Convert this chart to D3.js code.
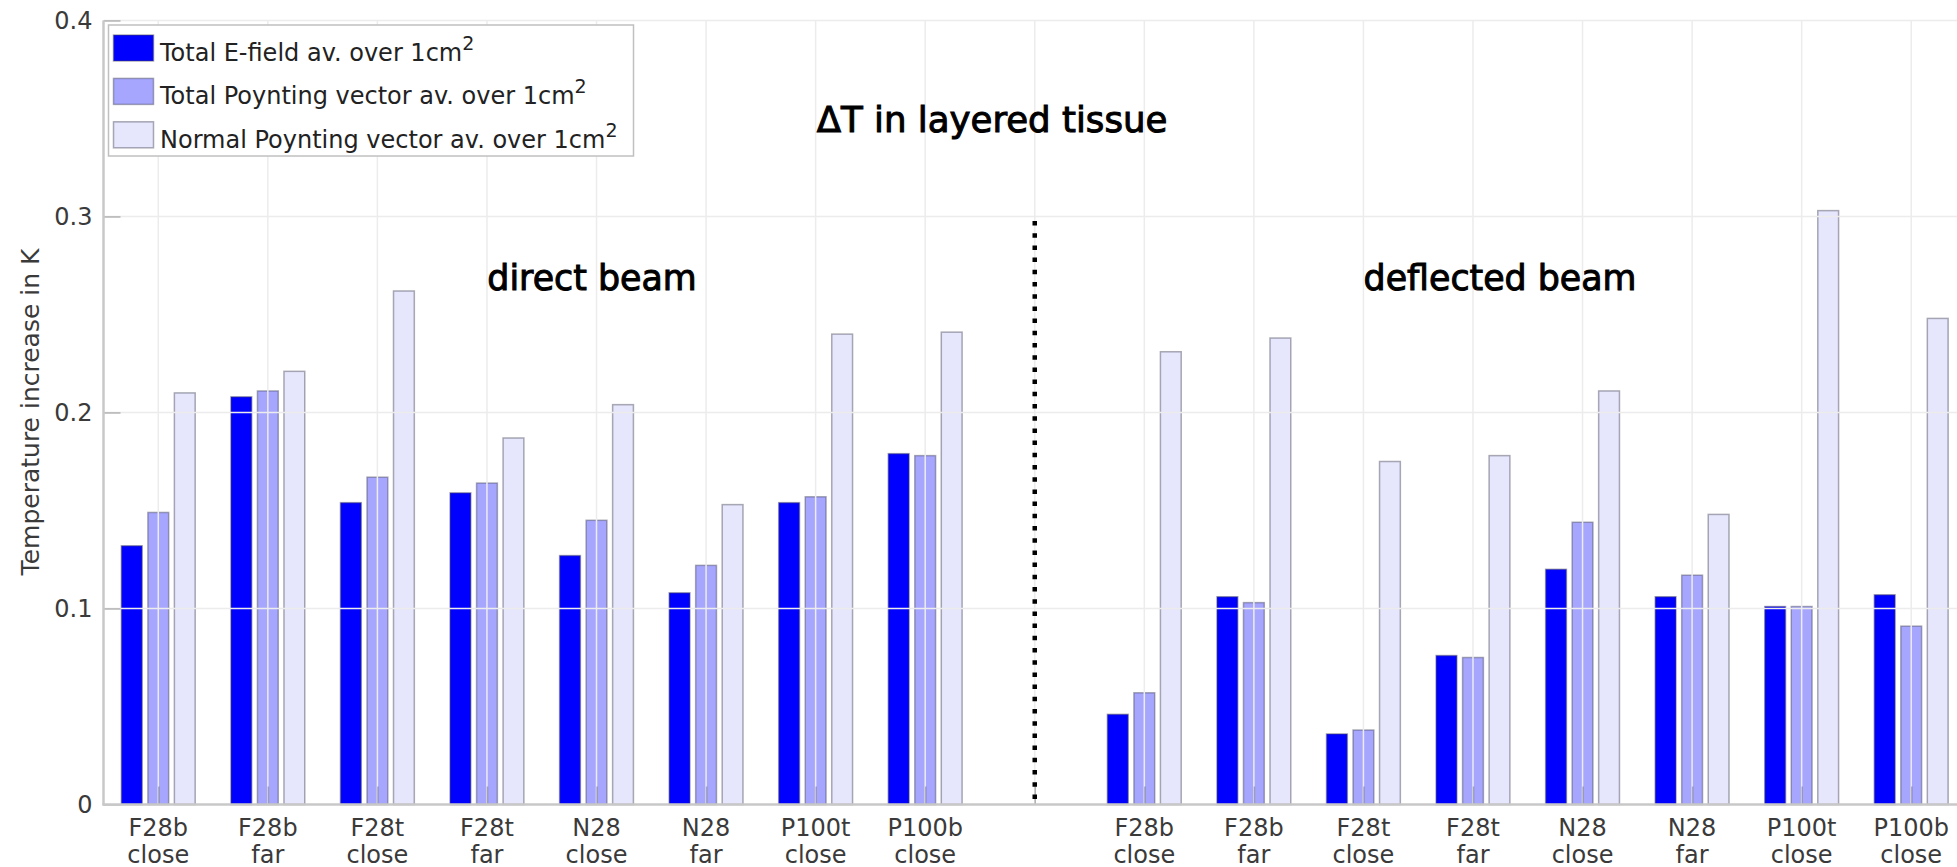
<!DOCTYPE html>
<html>
<head>
<meta charset="utf-8">
<script src="https://cdn.jsdelivr.net/npm/d3@7"></script>
<style>
  body { margin: 0; background: #fff; }
  text { font-family: "DejaVu Sans", sans-serif; }
</style>
</head>
<body>
<script>
// categories (same for both beam setups)
var labelsTop = ["F28b", "F28b", "F28t", "F28t", "N28", "N28", "P100t", "P100b"];
var labelsBottom = ["close", "far", "close", "far", "close", "far", "close", "close"];

// direct beam
var directE      = [0.132, 0.208, 0.154, 0.159, 0.127, 0.108, 0.154, 0.179];
var directTotalS = [0.149, 0.211, 0.167, 0.164, 0.145, 0.122, 0.157, 0.178];
var directNormS  = [0.210, 0.221, 0.262, 0.187, 0.204, 0.153, 0.240, 0.241];

// deflected beam
var deflE      = [0.046, 0.106, 0.036, 0.076, 0.120, 0.106, 0.101, 0.107];
var deflTotalS = [0.057, 0.103, 0.038, 0.075, 0.144, 0.117, 0.101, 0.091];
var deflNormS  = [0.231, 0.238, 0.175, 0.178, 0.211, 0.148, 0.303, 0.248];

var seriesNames = ["Total E-field av. over 1cm", "Total Poynting vector av. over 1cm", "Normal Poynting vector av. over 1cm"];
var seriesColors = ["#0000ff", "#a6a6ff", "#e6e6fc"];
var yTicks = [0, 0.1, 0.2, 0.3, 0.4];

var W = 1957, H = 867;
var svg = d3.select("body").append("svg")
    .attr("width", W)
    .attr("height", H);

var x = d3.scaleLinear().domain([0.5, 17.5]).range([103.5, 1966]);
var y = d3.scaleLinear().domain([0, 0.4]).range([804.5, 20.5]);

// build rows: slot 1..8 direct, 10..17 deflected
var rows = [];
labelsTop.forEach(function(l, i) {
    rows.push({slot: i + 1, top: l, bottom: labelsBottom[i], v: [directE[i], directTotalS[i], directNormS[i]]});
});
labelsTop.forEach(function(l, i) {
    rows.push({slot: i + 10, top: l, bottom: labelsBottom[i], v: [deflE[i], deflTotalS[i], deflNormS[i]]});
});

var offset = 0.242, barW = x(0.19) - x(0);
var bars = [];
rows.forEach(function(r) {
    r.v.forEach(function(v, k) {
        bars.push({pos: r.slot + (k - 1) * offset, v: v, k: k});
    });
});

svg.append("g").selectAll("rect")
    .data(bars)
    .enter()
    .append("rect")
    .attr("x", function(d) { return x(d.pos) - barW / 2; })
    .attr("y", function(d) { return y(d.v); })
    .attr("width", barW)
    .attr("height", function(d) { return y(0) - y(d.v); })
    .attr("fill", function(d) { return seriesColors[d.k]; })
    .attr("stroke", "rgba(70,70,90,0.45)")
    .attr("stroke-width", 1.5);

// grid on top of bars
var slots = d3.range(1, 18);
var grid = svg.append("g");
grid.selectAll("line.v")
    .data(slots)
    .enter()
    .append("line")
    .attr("x1", function(d) { return x(d); })
    .attr("x2", function(d) { return x(d); })
    .attr("y1", y(0.4))
    .attr("y2", y(0))
    .attr("stroke", "#ececec")
    .attr("stroke-width", 1.5);
grid.selectAll("line.h")
    .data(yTicks.slice(1))
    .enter()
    .append("line")
    .attr("x1", x(0.5))
    .attr("x2", x(17.5))
    .attr("y1", function(d) { return y(d); })
    .attr("y2", function(d) { return y(d); })
    .attr("stroke", "#ececec")
    .attr("stroke-width", 1.5);

// axes
var yAxis = svg.append("g")
    .attr("transform", "translate(" + x(0.5) + ",0)")
    .call(d3.axisLeft(y).tickValues(yTicks).tickSize(-17).tickPadding(11)
        .tickFormat(function(d) { return String(d); }));
var xAxis = svg.append("g")
    .attr("transform", "translate(0," + y(0) + ")")
    .call(d3.axisBottom(x).tickValues(slots).tickSize(-18).tickFormat(""));

[yAxis, xAxis].forEach(function(a) {
    a.select(".domain").remove();
    a.selectAll(".tick line")
        .attr("stroke", "rgba(60,60,60,0.35)")
        .attr("stroke-width", 1.5);
});
yAxis.selectAll(".tick text")
    .attr("font-size", 24)
    .attr("font-family", "DejaVu Sans")
    .attr("fill", "#3a3a3a");

svg.append("line")
    .attr("x1", x(0.5)).attr("x2", x(0.5))
    .attr("y1", y(0.4)).attr("y2", y(0) + 1)
    .attr("stroke", "#c8c8c8").attr("stroke-width", 2.5);
svg.append("line")
    .attr("x1", x(0.5) - 1).attr("x2", x(17.5))
    .attr("y1", y(0)).attr("y2", y(0))
    .attr("stroke", "#c8c8c8").attr("stroke-width", 2.5);

// x labels in two lines
var xl = svg.append("g").selectAll("text")
    .data(rows)
    .enter()
    .append("text")
    .attr("text-anchor", "middle")
    .attr("font-size", 24)
    .attr("fill", "#3a3a3a");
xl.append("tspan")
    .attr("x", function(d) { return x(d.slot); })
    .attr("y", 836)
    .text(function(d) { return d.top; });
xl.append("tspan")
    .attr("x", function(d) { return x(d.slot); })
    .attr("y", 862.5)
    .text(function(d) { return d.bottom; });

// separator
svg.append("line")
    .attr("x1", x(9)).attr("x2", x(9))
    .attr("y1", 221).attr("y2", y(0))
    .attr("stroke", "#000")
    .attr("stroke-width", 4.5)
    .attr("stroke-dasharray", "4.5 7.7");

// y label
svg.append("text")
    .attr("transform", "translate(39,412) rotate(-90)")
    .attr("text-anchor", "middle")
    .attr("font-size", 25)
    .attr("fill", "#3a3a3a")
    .text("Temperature increase in K");

// title and region labels
var heads = [
    {t: "\u0394T in layered tissue", x: 992, y: 131.5, s: 35.6},
    {t: "direct beam", x: 592, y: 289.5, s: 34.8},
    {t: "deflected beam", x: 1500, y: 289.5, s: 34.8}
];
svg.selectAll("text.head")
    .data(heads)
    .enter()
    .append("text")
    .attr("class", "head")
    .attr("x", function(d) { return d.x; })
    .attr("y", function(d) { return d.y; })
    .attr("text-anchor", "middle")
    .attr("font-size", function(d) { return d.s; })
    .attr("fill", "#000")
    .attr("stroke", "#000")
    .attr("stroke-width", 1.0)
    .text(function(d) { return d.t; });

// legend
var lg = svg.append("g");
lg.append("rect")
    .attr("x", 108.5).attr("y", 25)
    .attr("width", 525).attr("height", 131)
    .attr("fill", "#fff")
    .attr("stroke", "#c0c0c0")
    .attr("stroke-width", 1.5);
var items = lg.selectAll("g")
    .data(seriesNames)
    .enter()
    .append("g")
    .attr("transform", function(d, i) { return "translate(0," + (i * 43.4) + ")"; });
items.append("rect")
    .attr("x", 113.5).attr("y", 35)
    .attr("width", 40).attr("height", 26)
    .attr("fill", function(d, i) { return seriesColors[i]; })
    .attr("stroke", "rgba(70,70,90,0.45)")
    .attr("stroke-width", 1.5);
var lt = items.append("text")
    .attr("x", 160).attr("y", 61)
    .attr("font-size", 24)
    .attr("fill", "#222");
lt.append("tspan").text(function(d) { return d; });
lt.append("tspan")
    .attr("dy", -11)
    .attr("font-size", 19)
    .text("2");
</script>
</body>
</html>
